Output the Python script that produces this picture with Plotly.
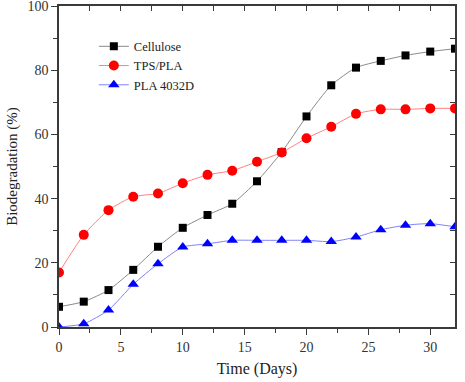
import plotly.graph_objects as go

days = [0, 2, 4, 6, 8, 10, 12, 14, 16, 18, 20, 22, 24, 26, 28, 30, 32]
cellulose = [6.3, 7.9, 11.5, 17.8, 25.0, 30.9, 34.9, 38.4, 45.4, 54.5, 65.6, 75.3, 80.8, 82.9, 84.6, 85.8, 86.7]
tps_pla = [17.0, 28.7, 36.4, 40.6, 41.6, 44.8, 47.4, 48.7, 51.5, 54.4, 58.8, 62.4, 66.4, 67.8, 67.8, 68.1, 68.1]
pla_4032d = [0.0, 1.0, 5.3, 13.3, 19.7, 24.9, 25.9, 27.0, 27.0, 27.0, 27.0, 26.6, 28.0, 30.3, 31.7, 32.2, 31.2]

x_ticks = [0, 5, 10, 15, 20, 25, 30]
y_ticks = [0, 20, 40, 60, 80, 100]

FONT = "Liberation Serif, Times New Roman, serif"
AX = "#3a3a3a"

fig = go.Figure()
fig.add_trace(go.Scatter(x=days, y=cellulose, name="Cellulose", mode="lines+markers",
                         line=dict(color="#8a8a8a", width=1, shape="spline", smoothing=0.6),
                         marker=dict(symbol="square", size=8, color="black")))
fig.add_trace(go.Scatter(x=days, y=tps_pla, name="TPS/PLA", mode="lines+markers",
                         line=dict(color="#ff8080", width=1, shape="spline", smoothing=0.6),
                         marker=dict(symbol="circle", size=10, color="red")))
fig.add_trace(go.Scatter(x=days, y=pla_4032d, name="PLA 4032D", mode="lines+markers",
                         line=dict(color="#8080ff", width=1, shape="spline", smoothing=0.6),
                         marker=dict(symbol="triangle-up", size=10, color="blue")))
# invisible helper trace so the mirrored top/right axes are drawn
fig.add_trace(go.Scatter(x=days, y=cellulose, xaxis="x2", yaxis="y2", mode="lines",
                         line=dict(width=0), opacity=0, showlegend=False, hoverinfo="skip"))

common = dict(showgrid=False, zeroline=False, showline=True, linecolor=AX, linewidth=1.5,
              tickcolor=AX, automargin=False)

fig.update_layout(
    width=465, height=382,
    margin=dict(l=59, r=10, t=6, b=55),
    paper_bgcolor="white", plot_bgcolor="white",
    font=dict(family=FONT, color="#222"),
    showlegend=True,
    legend=dict(x=0.088, y=0.92, xanchor="left", yanchor="top",
                font=dict(family=FONT, size=12.5, color="#222"),
                bgcolor="rgba(0,0,0,0)", tracegroupgap=0, itemwidth=30),
    xaxis=dict(range=[0, 32], tickvals=x_ticks, ticks="outside", ticklen=6,
               tickfont=dict(family=FONT, size=14, color="#333"), ticklabeloverflow="allow",
               minor=dict(dtick=2.5, tick0=0, ticks="outside", ticklen=4, tickcolor=AX),
               title=dict(text="Time (Days)", font=dict(family=FONT, size=16, color="#222"), standoff=9),
               **common),
    yaxis=dict(range=[0, 100], tickvals=y_ticks, ticks="outside", ticklen=6,
               tickfont=dict(family=FONT, size=14, color="#333"), ticklabeloverflow="allow",
               minor=dict(dtick=10, tick0=0, ticks="outside", ticklen=4, tickcolor=AX),
               title=dict(text="Biodegradation (%)", font=dict(family=FONT, size=15, color="#222"), standoff=6),
               **common),
    xaxis2=dict(range=[0, 32], overlaying="x", side="top", tickvals=x_ticks, ticks="inside", ticklen=5,
                showticklabels=False,
                minor=dict(dtick=2.5, tick0=0, ticks="inside", ticklen=5, tickcolor=AX),
                **common),
    yaxis2=dict(range=[0, 100], overlaying="y", side="right", tickvals=y_ticks, ticks="inside", ticklen=5,
                showticklabels=False,
                minor=dict(dtick=10, tick0=0, ticks="inside", ticklen=5, tickcolor=AX),
                **common),
)

fig.write_html("out.html", config={"displayModeBar": False},
               post_script=["document.body.style.margin='0';"])
